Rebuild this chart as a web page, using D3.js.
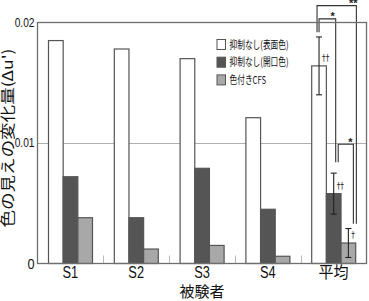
<!DOCTYPE html>
<html>
<head>
<meta charset="utf-8">
<script src="https://cdn.jsdelivr.net/npm/d3@7"></script>
<style>
  body { margin: 0; background: #fff; }
  svg { display: block; }
</style>
</head>
<body>
<svg id="chart" width="369" height="301"></svg>
<script>
/* global d3 */

const subjects = ['S1', 'S2', 'S3', 'S4', '平均']
const seriesNames = ['抑制なし(表面色)', '抑制なし(開口色)', '色付きCFS']
const surface = [0.0185, 0.0178, 0.0170, 0.0121, 0.0164]
const aperture = [0.0072, 0.0038, 0.0079, 0.0045, 0.0058]
const cfs = [0.0038, 0.0012, 0.0015, 0.0006, 0.0017]
const meanErr = [0.0024, 0.0017, 0.0012]
const meanMarks = ['††', '††', '†']
const yTicks = [0, 0.01, 0.02]
// significance brackets between series of the mean group
const sigA = [0, 0, 1]
const sigB = [2, 1, 2]
const sigLabel = ['**', '*', '*']
const sigTop = [0.0214, 0.0203, 0.0099]
const sigEndA = [0.0192, 0.0192, 0.0084]
const sigEndB = [0.0033, 0.0084, 0.0033]

const series = [surface, aperture, cfs]
const fills = ['#ffffff', '#555555', '#a8a8a8']

const plotLeft = 37.5
const plotRight = 366.5
const plotTop = 22.5
const plotBottom = 263.5

const svg = d3.select('#chart')

const x0 = d3.scaleBand().domain(subjects).range([plotLeft, plotRight])
const x1 = d3.scaleBand().domain([0, 1, 2]).range([11, 55])
const y = d3.scaleLinear().domain([0, 0.02]).range([plotBottom, plotTop])

// grid line at 0.01 (behind bars)
svg.append('line')
  .attr('x1', plotLeft).attr('x2', plotRight)
  .attr('y1', Math.round(y(0.01)) + 0.5).attr('y2', Math.round(y(0.01)) + 0.5)
  .attr('stroke', '#b0b0b0').attr('stroke-width', 1)

// small boundary ticks between groups
svg.selectAll('.sep')
  .data(subjects.slice(1))
  .enter().append('line')
  .attr('x1', d => Math.round(x0(d)) + 0.5)
  .attr('x2', d => Math.round(x0(d)) + 0.5)
  .attr('y1', plotBottom - 8).attr('y2', plotBottom)
  .attr('stroke', '#b8b8b8')

// bars
const groups = svg.selectAll('.grp')
  .data(subjects)
  .enter().append('g')
  .attr('transform', d => 'translate(' + x0(d) + ',0)')

groups.selectAll('rect')
  .data((d, i) => series.map((s, k) => ({ k: k, v: s[i] })))
  .enter().append('rect')
  .attr('x', d => x1(d.k))
  .attr('width', x1.bandwidth())
  .attr('y', d => y(d.v))
  .attr('height', d => plotBottom - y(d.v))
  .attr('fill', d => fills[d.k])
  .attr('stroke', '#555')
  .attr('stroke-width', 1.2)

// error bars for mean
const meanX = k => x0('平均') + x1(k) + x1.bandwidth() / 2
const meanVal = k => series[k][4]
const eg = svg.append('g').attr('stroke', '#222').attr('stroke-width', 1.1)
meanErr.forEach((e, k) => {
  const cx = meanX(k)
  eg.append('line').attr('x1', cx).attr('x2', cx)
    .attr('y1', y(meanVal(k) + e)).attr('y2', y(meanVal(k) - e))
  ;[meanVal(k) + e, meanVal(k) - e].forEach(v => {
    eg.append('line').attr('x1', cx - 3).attr('x2', cx + 3)
      .attr('y1', y(v)).attr('y2', y(v))
  })
})

svg.selectAll('.dag')
  .data(meanMarks)
  .enter().append('text')
  .attr('x', (d, k) => meanX(k) + 3)
  .attr('y', (d, k) => y(meanVal(k)) - 5)
  .attr('font-family', 'DejaVu Sans, sans-serif')
  .attr('font-size', 9)
  .style('fill', '#222222')
  .text(d => d)
  .each(function () {
    this.setAttribute('textLength', this.getComputedTextLength() * 0.8)
    this.setAttribute('lengthAdjust', 'spacingAndGlyphs')
  })

// significance brackets
const legOffA = [-2, 0, 4.5]
const legOffB = [8, 2, 5]
const bg = svg.append('g')
sigLabel.forEach((lab, i) => {
  const xa = meanX(sigA[i]) + legOffA[i]
  const xb = meanX(sigB[i]) + legOffB[i]
  const yt = y(sigTop[i])
  bg.append('path')
    .attr('d', 'M' + xa + ',' + y(sigEndA[i]) + 'V' + yt + 'H' + xb + 'V' + y(sigEndB[i]))
    .attr('fill', 'none')
    .attr('stroke', '#333')
    .attr('stroke-width', 1.1)
  bg.append('text')
    .attr('x', xb - 3)
    .attr('y', yt + 1.5)
    .attr('text-anchor', 'middle')
    .attr('font-family', 'Liberation Sans, Arial, sans-serif')
    .attr('font-weight', 'bold')
    .attr('font-size', 11)
    .attr('fill', '#222')
    .text(lab)
})

// frame
svg.append('rect')
  .attr('x', plotLeft).attr('y', plotTop)
  .attr('width', plotRight - plotLeft).attr('height', plotBottom - plotTop)
  .attr('fill', 'none').attr('stroke', '#6e6e6e').attr('stroke-width', 1.3)

// y axis labels
const yAxis = svg.append('g')
  .attr('transform', 'translate(' + (plotLeft - 2) + ',0)')
  .call(d3.axisLeft(y).tickValues(yTicks).tickSize(0).tickPadding(1)
    .tickFormat(d => d === 0 ? '0' : d3.format('.2f')(d)))
yAxis.select('.domain').remove()
yAxis.selectAll('text')
  .attr('font-family', 'Liberation Sans, Arial, sans-serif')
  .attr('font-size', d => d === 0 ? 15 : 12)
  .attr('fill', '#111')
  .each(function () {
    this.setAttribute('textLength', this.getComputedTextLength() * 0.85)
    this.setAttribute('lengthAdjust', 'spacingAndGlyphs')
  })

// x axis labels
const xAxis = svg.append('g')
  .attr('transform', 'translate(0,' + plotBottom + ')')
  .call(d3.axisBottom(x0).tickSize(0).tickPadding(3))
xAxis.select('.domain').remove()
xAxis.selectAll('text')
  .attr('font-family', 'Liberation Sans, Noto Sans CJK JP, sans-serif')
  .attr('font-size', 16)
  .attr('fill', '#111')
  .each(function (d) {
    const f = d === '平均' ? 0.94 : 0.8
    this.setAttribute('textLength', this.getComputedTextLength() * f)
    this.setAttribute('lengthAdjust', 'spacingAndGlyphs')
  })

svg.append('text')
  .attr('x', (plotLeft + plotRight) / 2)
  .attr('y', 297)
  .attr('text-anchor', 'middle')
  .attr('font-family', 'Noto Sans CJK JP, sans-serif')
  .attr('font-size', 15)
  .attr('fill', '#111')
  .text('被験者')

svg.append('text')
  .attr('transform', 'translate(13,138) rotate(-90)')
  .attr('text-anchor', 'middle')
  .attr('font-family', 'Noto Sans CJK JP, sans-serif')
  .attr('font-size', 14.5)
  .attr('fill', '#111')
  .attr('textLength', 179)
  .attr('lengthAdjust', 'spacingAndGlyphs')
  .text("色の見えの変化量(Δu')")

// legend
const lg = svg.selectAll('.leg')
  .data(seriesNames)
  .enter().append('g')
  .attr('transform', (d, i) => 'translate(217,' + (39.5 + i * 17.7) + ')')
lg.append('rect')
  .attr('width', 8.5).attr('height', 10)
  .attr('fill', (d, i) => fills[i])
  .attr('stroke', '#555').attr('stroke-width', 1)
lg.append('text')
  .attr('x', 12.5).attr('y', 9)
  .attr('font-family', 'Noto Sans CJK JP, sans-serif')
  .attr('font-size', 11)
  .attr('fill', '#111')
  .text(d => d)
  .each(function () {
    this.setAttribute('textLength', this.getComputedTextLength() * 0.7)
    this.setAttribute('lengthAdjust', 'spacingAndGlyphs')
  })
</script>
</body>
</html>
